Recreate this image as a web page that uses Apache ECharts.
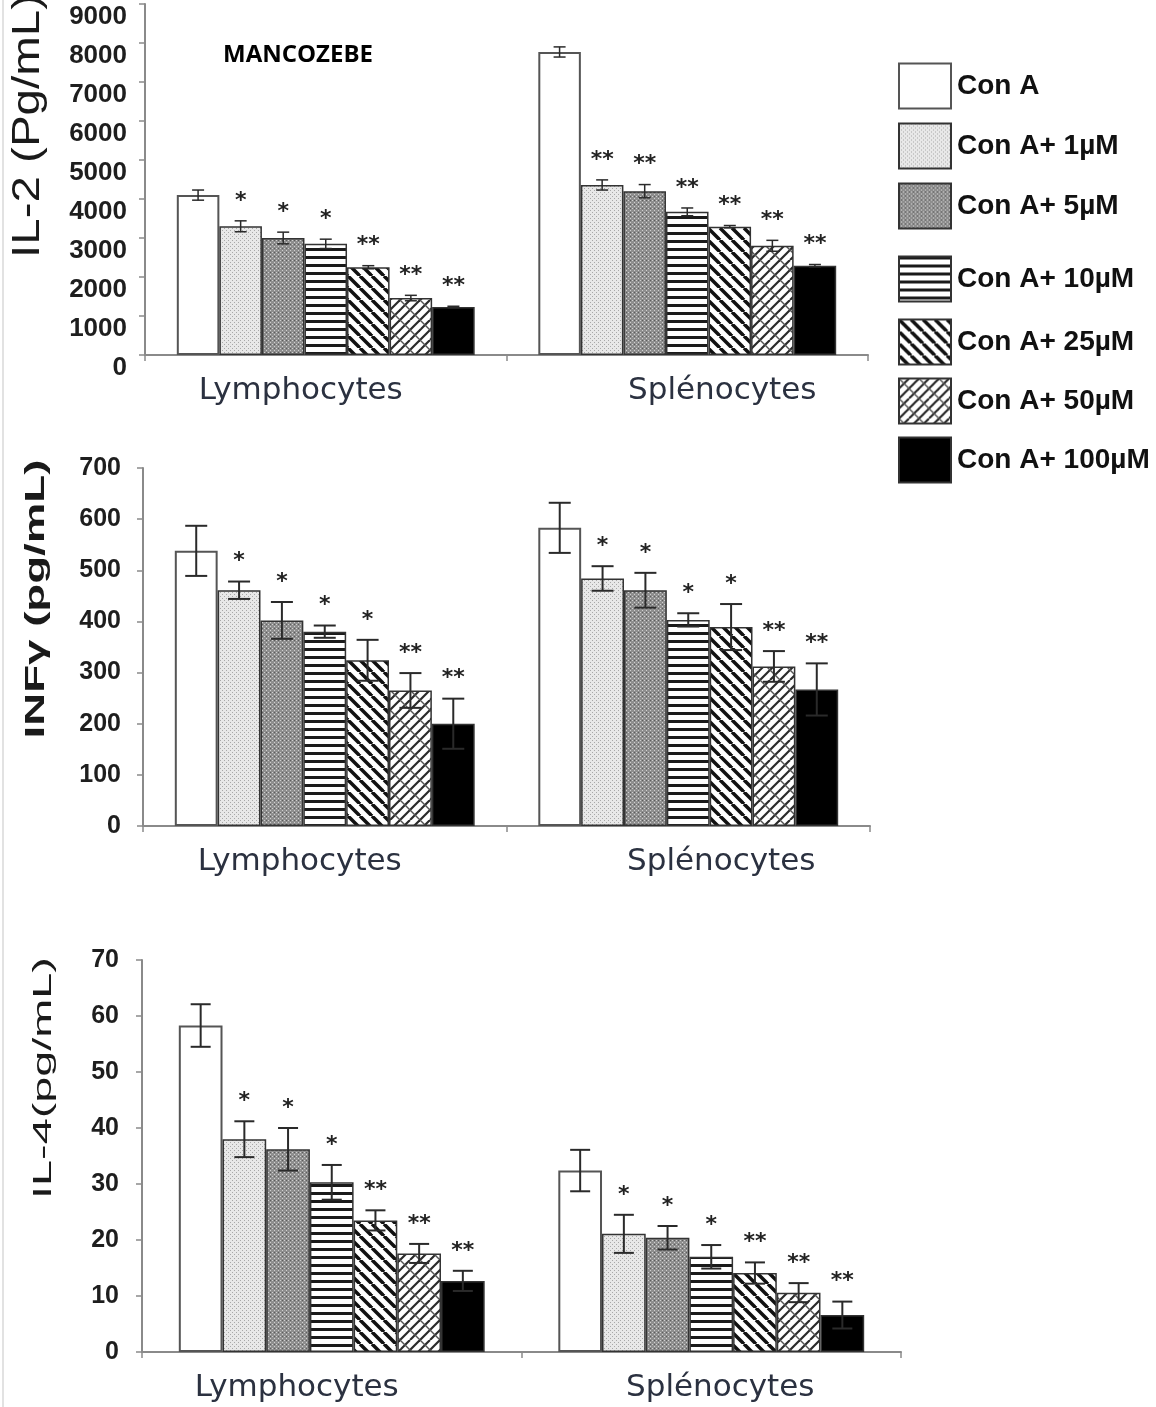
<!DOCTYPE html>
<html>
<head>
<meta charset="utf-8">
<script src="https://cdn.jsdelivr.net/npm/echarts@6/dist/echarts.min.js"></script>
<style>
  html, body { margin: 0; padding: 0; background: #fff; }
  #main { width: 1156px; height: 1407px; }
</style>
</head>
<body>
<div id="main"></div>
<script>
// categories and conditions
var cats = ['Lymphocytes', 'Splénocytes'];
var conds = ['Con A', 'Con A+ 1µM', 'Con A+ 5µM', 'Con A+ 10µM', 'Con A+ 25µM', 'Con A+ 50µM', 'Con A+ 100µM'];

// IL-2 (pg/mL)
var il2Lymph = [4100, 3300, 3000, 2850, 2250, 1460, 1230];
var il2LymphErr = [130, 140, 150, 120, 40, 70, 20];
var il2Splen = [7770, 4360, 4200, 3670, 3290, 2800, 2290];
var il2SplenErr = [130, 130, 170, 100, 30, 140, 30];
var il2Stars = [['', '*', '*', '*', '**', '**', '**'], ['', '**', '**', '**', '**', '**', '**']];

// INF gamma (pg/mL)
var infLymph = [538, 461, 402, 380, 324, 265, 200];
var infLymphErr = [49, 17, 36, 12, 40, 34, 49];
var infSplen = [583, 484, 461, 403, 389, 312, 267];
var infSplenErr = [49, 24, 34, 13, 45, 30, 51];
var infStars = [['', '*', '*', '*', '*', '**', '**'], ['', '*', '*', '*', '*', '**', '**']];

// IL-4 (pg/mL)
var il4Lymph = [58.3, 38.0, 36.2, 30.3, 23.5, 17.6, 12.7];
var il4LymphErr = [3.8, 3.2, 3.8, 3.1, 1.8, 1.7, 1.8];
var il4Splen = [32.4, 21.1, 20.4, 17.0, 14.1, 10.6, 6.6];
var il4SplenErr = [3.7, 3.4, 2.1, 2.1, 1.9, 1.7, 2.4];
var il4Stars = [['', '*', '*', '*', '**', '**', '**'], ['', '*', '*', '*', '**', '**', '**']];

var SANS = "'Liberation Sans', Arial, sans-serif";

// pattern tiles
function tile(w, h, draw) {
  var c = document.createElement('canvas');
  c.width = w; c.height = h;
  draw(c.getContext('2d'), w, h);
  return { image: c, repeat: 'repeat' };
}
var fills = [
  '#ffffff',
  tile(4, 4, function (g) {
    g.fillStyle = '#e8e8e8'; g.fillRect(0, 0, 4, 4);
    g.fillStyle = '#a8a8a8'; g.fillRect(0, 0, 1, 1); g.fillRect(2, 2, 1, 1);
  }),
  tile(4, 4, function (g) {
    g.fillStyle = '#8e8e8e'; g.fillRect(0, 0, 4, 4);
    g.fillStyle = '#d0d0d0'; g.fillRect(0, 0, 1, 1); g.fillRect(2, 2, 1, 1);
    g.fillStyle = '#5c5c5c'; g.fillRect(2, 0, 1, 1);
  }),
  tile(8, 8, function (g) {
    g.fillStyle = '#fff'; g.fillRect(0, 0, 8, 8);
    g.fillStyle = '#1a1a1a'; g.fillRect(0, 0, 8, 3);
  }),
  tile(12, 12, function (g) {
    g.fillStyle = '#fff'; g.fillRect(0, 0, 12, 12);
    g.strokeStyle = '#111'; g.lineWidth = 3.5;
    [-12, 0, 12].forEach(function (k) {
      g.beginPath(); g.moveTo(k, 0); g.lineTo(k + 12, 12); g.stroke();
    });
  }),
  tile(20, 20, function (g) {
    g.fillStyle = '#fff'; g.fillRect(0, 0, 20, 20);
    g.strokeStyle = '#2a2a2a'; g.lineWidth = 2.2;
    [-20, -10, 0, 10, 20].forEach(function (k) {
      g.beginPath(); g.moveTo(k, 20); g.lineTo(k + 20, 0); g.stroke();
    });
    g.strokeStyle = '#555'; g.lineWidth = 1.4;
    [-20, 0, 20].forEach(function (k) {
      g.beginPath(); g.moveTo(k, 0); g.lineTo(k + 20, 20); g.stroke();
    });
  }),
  '#000000'
];

function errRender(gap, capW, lw, stars, starFont) {
  return function (params, api) {
    var cat = api.value(0), cond = api.value(1), m = api.value(2), e = api.value(3);
    var band = api.size([1, 0])[0];
    var total = band * (1 - gap);
    var bw = total / 7;
    var cx = api.coord([cat, 0])[0] - total / 2 + (cond + 0.5) * bw;
    var top = api.coord([cat, m + e])[1];
    var bot = api.coord([cat, m - e])[1];
    var st = { stroke: '#2a2a2a', lineWidth: lw };
    var kids = [
      { type: 'line', shape: { x1: cx, y1: top, x2: cx, y2: bot }, style: st },
      { type: 'line', shape: { x1: cx - capW / 2, y1: top, x2: cx + capW / 2, y2: top }, style: st },
      { type: 'line', shape: { x1: cx - capW / 2, y1: bot, x2: cx + capW / 2, y2: bot }, style: st }
    ];
    var s = stars[cat][cond];
    if (s) {
      kids.push({ type: 'text', style: { text: s, x: cx, y: top - 20, align: 'center', verticalAlign: 'middle', font: starFont, fill: '#222' } });
    }
    return { type: 'group', children: kids };
  };
}

var grids = [
  { left: 145, top: 4, width: 723, height: 351 },
  { left: 143, top: 468, width: 727, height: 358 },
  { left: 142, top: 960, width: 759, height: 392 }
];
var panels = [
  { lymph: il2Lymph, lymphErr: il2LymphErr, splen: il2Splen, splenErr: il2SplenErr, stars: il2Stars,
    max: 9000, step: 1000, gap: 0.176, cap: 12, lw: 1.5, labelSize: 26, vAlign: 'top', margin: 18,
    lShift: [0, 50, 0, 0], sShift: [0, 0, 0, 70] },
  { lymph: infLymph, lymphErr: infLymphErr, splen: infSplen, splenErr: infSplenErr, stars: infStars,
    max: 700, step: 100, gap: 0.175, cap: 22, lw: 2, labelSize: 25, vAlign: 'middle', margin: 22,
    lShift: [0, 50, 0, 0], sShift: [0, 0, 0, 66] },
  { lymph: il4Lymph, lymphErr: il4LymphErr, splen: il4Splen, splenErr: il4SplenErr, stars: il4Stars,
    max: 70, step: 10, gap: 0.194, cap: 20, lw: 2, labelSize: 25, vAlign: 'middle', margin: 23,
    lShift: [0, 70, 0, 0], sShift: [0, 0, 0, 18] }
];

var xAxes = [], yAxes = [], series = [];
panels.forEach(function (p, gi) {
  xAxes.push({
    type: 'category', gridIndex: gi, data: cats,
    axisLine: { lineStyle: { color: '#8a8a8a', width: 2 } },
    axisTick: { show: true, length: 6, lineStyle: { color: '#8a8a8a', width: 1.5 } },
    axisLabel: {
      margin: 20,
      formatter: function (v, i) { return i === 0 ? '{a|' + v + '}' : '{b|' + v + '}'; },
      rich: {
        a: { fontFamily: 'DejaVu Sans', fontSize: 31, color: '#2b3140', padding: p.lShift },
        b: { fontFamily: 'DejaVu Sans', fontSize: 31, color: '#2b3140', padding: p.sShift }
      }
    }
  });
  yAxes.push({
    type: 'value', gridIndex: gi, min: 0, max: p.max, interval: p.step,
    axisLine: { show: true, lineStyle: { color: '#8a8a8a', width: 2 } },
    axisTick: { show: true, length: 6, lineStyle: { color: '#8a8a8a', width: 1.5 } },
    splitLine: { show: false },
    axisLabel: {
      fontFamily: SANS, fontWeight: 'bold', fontSize: p.labelSize, color: '#1e1e1e',
      margin: p.margin, verticalAlign: p.vAlign,
      formatter: function (v) { return String(v); }
    }
  });
  conds.forEach(function (name, ci) {
    series.push({
      type: 'bar', name: name, xAxisIndex: gi, yAxisIndex: gi,
      data: [p.lymph[ci], p.splen[ci]],
      barGap: '0%', barCategoryGap: (p.gap * 100) + '%',
      itemStyle: { color: fills[ci], borderColor: ci === 0 ? '#555' : '#333', borderWidth: ci === 0 ? 2 : 1.5 },
      emphasis: { disabled: true }
    });
  });
  var errData = [];
  [[p.lymph, p.lymphErr], [p.splen, p.splenErr]].forEach(function (pair, cat) {
    for (var ci = 0; ci < 7; ci++) errData.push([cat, ci, pair[0][ci], pair[1][ci]]);
  });
  series.push({
    type: 'custom', xAxisIndex: gi, yAxisIndex: gi, z: 10, silent: true,
    encode: { x: 0, y: 2 },
    data: errData,
    renderItem: errRender(p.gap, p.cap, p.lw, p.stars, 'bold 22px DejaVu Sans')
  });
});

var legendCenters = [80, 140, 200, 273, 336, 395, 454];
var legends = conds.map(function (name, i) {
  return {
    data: [name], left: 893, top: legendCenters[i] - 22.5, orient: 'vertical',
    icon: 'rect', itemWidth: 52, itemHeight: 45, selectedMode: false,
    textStyle: { fontFamily: SANS, fontWeight: 'bold', fontSize: 28, color: '#111', padding: [0, 0, 0, 1] }
  };
});

var chart = echarts.init(document.getElementById('main'));
chart.setOption({
  animation: false,
  backgroundColor: '#fff',
  grid: grids,
  xAxis: xAxes,
  yAxis: yAxes,
  legend: legends,
  series: series,
  graphic: [
    { type: 'line', shape: { x1: 3, y1: 0, x2: 3, y2: 1407 }, style: { stroke: '#e2e2e2', lineWidth: 2 } },
    { type: 'text', x: 298, y: 55, style: { text: 'MANCOZEBE', font: 'bold 24px "Open Sans"', fill: '#000', align: 'center', verticalAlign: 'middle' } },
    { type: 'text', x: 29, y: 126, rotation: Math.PI / 2, scaleX: 1.25,
      style: { text: 'IL-2 (Pg/mL)', font: '38px "Liberation Sans"', fill: '#1a1a1a', align: 'center', verticalAlign: 'middle' } },
    { type: 'text', x: 36, y: 599, rotation: Math.PI / 2, scaleX: 1.63,
      style: { text: 'INFγ (pg/mL)', font: 'bold 28px "Liberation Sans"', fill: '#1a1a1a', align: 'center', verticalAlign: 'middle' } },
    { type: 'text', x: 44, y: 1078, rotation: Math.PI / 2, scaleX: 1.8,
      style: { text: 'IL-4(pg/mL)', font: '26px "Liberation Sans"', fill: '#1a1a1a', align: 'center', verticalAlign: 'middle' } }
  ]
});
</script>
</body>
</html>
